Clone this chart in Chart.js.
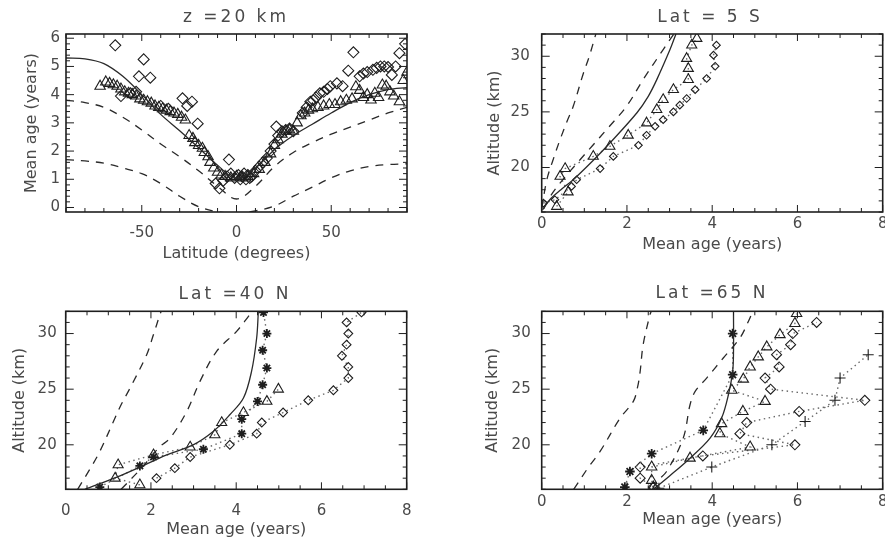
<!DOCTYPE html>
<html>
<head>
<meta charset="utf-8">
<script src="https://cdn.jsdelivr.net/npm/chart.js@4.4.1/dist/chart.umd.min.js"></script>
<style>
html, body { margin: 0; padding: 0; background: #fff; overflow: hidden; }
#wrap { position: relative; width: 885px; height: 544px; overflow: hidden; }
canvas { position: absolute; }
</style>
</head>
<body>
<div id="wrap">
  <canvas id="p1" width="442" height="272" style="left:0;top:0"></canvas>
  <canvas id="p2" width="451" height="272" style="left:442px;top:0"></canvas>
  <canvas id="p3" width="442" height="272" style="left:0;top:272px"></canvas>
  <canvas id="p4" width="451" height="272" style="left:442px;top:272px"></canvas>
</div>
<script>
// ---- z = 20 km (latitude cross section) ----
const latGrid20 = [-90, -80, -70, -60, -50, -40, -30, -20, -10, 0, 10, 20, 30, 40, 50, 60, 70, 80, 90];
const solid20 = [5.3, 5.27, 5.1, 4.65, 4.0, 3.3, 2.72, 2.12, 1.5, 1.02, 1.4, 2.05, 2.55, 2.95, 3.35, 3.72, 4.0, 4.18, 4.25];
const dashUp20 = [3.8, 3.72, 3.55, 3.2, 2.75, 2.25, 1.8, 1.3, 0.75, 0.3, 0.75, 1.45, 1.95, 2.3, 2.6, 2.85, 3.1, 3.35, 3.55];
const dashLo20 = [1.7, 1.65, 1.57, 1.4, 1.2, 0.85, 0.4, 0.03, -0.15, -0.2, -0.12, 0.05, 0.4, 0.72, 1.05, 1.3, 1.45, 1.52, 1.55];

const latDia20 = [-64, -49, -51.5, -45.5, -61, -56, -53, -40, -36, -28.5, -23.5, -26, -20.5, -4, -9, -11, -7, -5, -3, -1, 1, 2, 3, 4, 5, 6, 7, 8,
  10, 12, 14, 16, 18, 20, 21, 22, 24, 26, 28, 30, 35, 37, 39, 40.5, 42, 44, 46, 48, 49.5, 53, 56, 59, 61.7, 65, 67, 69, 72, 74, 76, 78, 80, 82, 84, 86, 89];
const ageDia20 = [5.75, 5.25, 4.65, 4.6, 3.95, 4.05, 4.1, 3.6, 3.5, 3.87, 3.75, 3.6, 2.97, 1.7, 0.68, 0.85, 0.95, 1.1, 1.2, 1.05, 1.15, 1.0, 1.1, 1.2, 1.0, 1.15, 1.05, 1.1,
  1.3, 1.45, 1.6, 1.75, 2.0, 2.25, 2.87, 2.55, 2.7, 2.75, 2.8, 2.7, 3.35, 3.55, 3.75, 3.8, 3.9, 4.05, 4.1, 4.2, 4.3, 4.4, 4.3, 4.85, 5.5, 4.65, 4.75, 4.8, 4.88, 4.95, 5.0, 5.0, 4.98, 4.7, 5.0, 5.47, 5.8];

const latTri20 = [-72, -69, -67, -65, -63, -61, -59, -57, -55, -53, -51, -49, -47, -45, -43, -41, -39, -37, -35, -33, -31, -29, -27, -25, -23, -22, -20, -18, -17, -15, -14, -12, -10, -8, -6, -3, 0, 3, 6, 9,
  12, 15, 18, 20, 22, 24, 26, 28, 30, 32, 34, 36, 38, 40, 43, 46, 49, 52, 55, 58, 61, 63, 65, 67, 69, 71, 73, 75, 77, 79, 81, 83, 86, 88, 90];
const ageTri20 = [4.3, 4.45, 4.4, 4.35, 4.3, 4.2, 4.1, 4.05, 4.0, 3.95, 3.85, 3.8, 3.75, 3.7, 3.6, 3.55, 3.5, 3.45, 3.4, 3.35, 3.3, 3.2, 3.1, 2.55, 2.45, 2.3, 2.2, 2.1, 1.95, 1.8, 1.6, 1.4, 1.25, 1.15, 1.1, 1.05, 1.1, 1.05, 1.1, 1.2,
  1.35, 1.6, 1.9, 2.2, 2.4, 2.6, 2.7, 2.75, 2.7, 3.0, 3.25, 3.35, 3.45, 3.5, 3.55, 3.6, 3.65, 3.65, 3.75, 3.8, 3.85, 4.28, 4.15, 3.9, 4.0, 3.81, 4.05, 3.9, 4.34, 4.3, 4.1, 3.95, 3.75, 4.5, 4.8];

// ---- Lat = 5 S (profiles) ----
const ageDashA5S = [0.0, 0.12, 0.25, 0.43, 0.6, 0.74, 0.98, 1.1, 1.21, 1.27];
const altDashA5S = [16.3, 18.9, 20.5, 22.5, 24.2, 25.5, 28.5, 29.8, 31.2, 32];
const ageDashB5S = [0.05, 0.15, 0.43, 0.9, 1.2, 1.52, 1.99, 2.38, 2.85, 3.1];
const altDashB5S = [16.3, 17.1, 18.6, 20.7, 22.0, 23.4, 25.5, 27.9, 30.6, 32];
const ageSolid5S = [0.02, 0.19, 0.45, 0.74, 1.2, 1.6, 2.23, 2.5, 2.7, 3.01, 3.15];
const altSolid5S = [16.2, 17.1, 18.0, 18.9, 20.6, 22.2, 24.9, 26.4, 27.9, 30.6, 32];
const ageTri5S = [0.35, 0.62, 0.43, 0.55, 1.21, 1.6, 2.03, 2.46, 2.7, 2.85, 3.09, 3.44, 3.44, 3.4, 3.52, 3.64];
const altTri5S = [16.5, 17.8, 19.2, 19.9, 21.0, 21.9, 22.9, 24.0, 25.2, 26.1, 27.0, 27.9, 28.9, 29.8, 31.0, 31.6];
const ageDia5S = [0.04, 0.31, 0.7, 0.82, 1.37, 1.68, 2.27, 2.46, 2.66, 2.85, 3.09, 3.24, 3.4, 3.6, 3.87, 4.07, 4.03, 4.1];
const altDia5S = [16.8, 17.1, 18.3, 18.9, 19.9, 21.0, 22.0, 22.9, 23.7, 24.3, 25.0, 25.6, 26.2, 27.0, 28.0, 29.1, 30.1, 31.0];

// ---- Lat = 40 N ----
const ageDashA40N = [0.28, 0.55, 0.8, 1.12, 1.3, 1.51, 1.9, 2.05, 2.21, 2.24];
const altDashA40N = [16, 17.7, 19.4, 22.1, 23.6, 25.1, 28.1, 29.8, 31.7, 32];
const ageDashB40N = [1.3, 1.8, 2.2, 2.45, 2.84, 3.15, 3.54, 4.01, 4.32, 4.38];
const altDashB40N = [16, 18, 19.8, 20.6, 23.0, 25.7, 28.4, 30.2, 31.7, 32];
const ageSolid40N = [0.45, 1.2, 1.74, 2.37, 2.99, 3.46, 3.85, 4.17, 4.36, 4.48, 4.52];
const altSolid40N = [16, 17.1, 18.0, 19.1, 20.0, 21.2, 22.7, 24.2, 26.6, 29.6, 32];
const ageAst40N = [0.8, 1.74, 2.06, 3.23, 4.13, 4.13, 4.5, 4.62, 4.72, 4.62, 4.72, 4.64];
const altAst40N = [16.2, 18.1, 18.9, 19.6, 21.0, 22.3, 23.9, 25.4, 26.9, 28.5, 30.0, 31.9];
const ageTri40N = [1.74, 1.16, 1.23, 2.06, 2.92, 3.5, 3.66, 4.17, 4.72, 4.99];
const altTri40N = [16.4, 17.0, 18.2, 19.1, 19.8, 20.9, 22.0, 22.9, 23.9, 25.0];
const ageDia40N = [2.13, 2.56, 2.92, 3.85, 4.48, 4.6, 5.1, 5.69, 6.28, 6.63, 6.63, 6.48, 6.59, 6.63, 6.59, 6.94];
const altDia40N = [17.0, 17.9, 18.9, 20.0, 21.0, 22.0, 22.9, 24.0, 24.9, 26.0, 27.0, 28.0, 29.0, 30.0, 31.0, 31.9];

// ---- Lat = 65 N ----
const ageDashA65N = [0.75, 1.1, 1.37, 1.84, 2.15, 2.25, 2.31, 2.38, 2.54, 2.57];
const altDashA65N = [16, 18, 19.4, 22.4, 23.9, 25.2, 26.6, 29.0, 31.7, 32];
const ageDashB65N = [2.6, 2.7, 2.93, 3.32, 3.48, 3.6, 3.87, 4.26, 4.65, 4.85, 4.95];
const altDashB65N = [16, 16.7, 17.6, 20.6, 23.6, 24.8, 26.0, 27.8, 29.6, 31.1, 32];
const ageSolid65N = [2.62, 3.0, 3.48, 3.95, 4.22, 4.38, 4.48, 4.5, 4.5];
const altSolid65N = [16, 17.2, 18.8, 20.6, 22.4, 24.5, 26.6, 28.5, 32];
const ageAst65N = [1.95, 2.07, 2.58, 3.79, 4.48, 4.48];
const altAst65N = [16.2, 17.6, 19.2, 21.3, 26.3, 30.0];
const agePlus65N = [2.75, 3.99, 5.4, 6.18, 6.88, 7.0, 7.66];
const altPlus65N = [16.1, 18.0, 20.0, 22.1, 24.0, 26.0, 28.1];
const ageTri65N = [2.62, 2.58, 2.58, 3.48, 4.89, 4.18, 4.22, 4.72, 5.24, 4.46, 4.73, 4.89, 5.08, 5.28, 5.59, 5.94, 5.98];
const altTri65N = [16.2, 16.8, 18.0, 18.8, 19.8, 21.0, 21.9, 23.0, 23.9, 24.9, 25.9, 27.0, 27.9, 28.8, 29.9, 30.9, 31.8];
const ageDia65N = [2.62, 2.31, 2.31, 3.78, 5.94, 4.65, 4.81, 6.04, 7.58, 5.37, 5.24, 5.57, 5.51, 5.84, 5.89, 6.45];
const altDia65N = [16.2, 17.0, 18.0, 19.0, 20.0, 21.0, 22.0, 23.0, 24.0, 25.0, 26.0, 27.0, 28.1, 29.0, 30.0, 31.0];

const FONT = 'DejaVu Sans';
const TEXT = '#4a4a4a';
const INK = '#1e1e1e';

function pts(xs, ys) {
    return xs.map((x, i) => ({ x: x, y: ys[i] }));
}

function curve(xs, ys, dash) {
    return {
        data: pts(xs, ys),
        showLine: true,
        pointRadius: 0,
        borderColor: '#2a2a2a',
        borderWidth: 1.3,
        borderDash: dash || [],
        tension: 0.35,
        fill: false
    };
}

function marks(xs, ys, style, r, joined) {
    return {
        data: pts(xs, ys),
        showLine: !!joined,
        pointStyle: style,
        pointRadius: r,
        pointBorderColor: INK,
        pointBackgroundColor: 'rgba(0,0,0,0)',
        pointBorderWidth: style === 'star' ? 1.8 : 1.1,
        borderColor: '#6a6a6a',
        borderWidth: 1.4,
        borderDash: [1.5, 3.5],
        tension: 0,
        fill: false
    };
}

// frame, inward IDL-style ticks and the panel title
const framePlugin = {
    id: 'frame',
    afterDraw(chart, args, o) {
        const { ctx, chartArea: a, scales: { x, y } } = chart;
        ctx.save();
        ctx.strokeStyle = INK;
        ctx.lineWidth = 1;
        const k = (s, step) => [Math.ceil(s.min / step - 1e-9), Math.floor(s.max / step + 1e-9)];
        const isMajor = (v, m) => Math.abs(v / m - Math.round(v / m)) < 1e-6;
        ctx.beginPath();
        let [k0, k1] = k(x, o.xMinor);
        for (let i = k0; i <= k1; i++) {
            const v = i * o.xMinor, px = x.getPixelForValue(v);
            const len = isMajor(v, o.xMajor) ? 7 : 4;
            ctx.moveTo(px, a.bottom); ctx.lineTo(px, a.bottom - len);
            ctx.moveTo(px, a.top); ctx.lineTo(px, a.top + len);
        }
        [k0, k1] = k(y, o.yMinor);
        for (let i = k0; i <= k1; i++) {
            const v = i * o.yMinor, py = y.getPixelForValue(v);
            const len = isMajor(v, o.yMajor) ? 8 : 4;
            ctx.moveTo(a.left, py); ctx.lineTo(a.left + len, py);
            ctx.moveTo(a.right, py); ctx.lineTo(a.right - len, py);
        }
        ctx.stroke();
        ctx.lineWidth = 1.6;
        ctx.strokeRect(a.left, a.top, a.right - a.left, a.bottom - a.top);

        ctx.fillStyle = TEXT;
        ctx.font = '17px ' + FONT;
        ctx.letterSpacing = '3px';
        ctx.textAlign = 'center';
        ctx.textBaseline = 'middle';
        ctx.fillText(o.title, o.tx, o.ty);
        ctx.restore();
    }
};

function axis(a, dir) {
    return {
        type: 'linear',
        min: a.min,
        max: a.max,
        afterBuildTicks: s => { s.ticks = a.ticks.map(v => ({ value: v })); },
        afterFit: s => { if (dir === 'x') s.height = a.size; else s.width = a.size; },
        grid: { display: false, drawTicks: false },
        border: { display: false },
        ticks: {
            autoSkip: false, maxRotation: 0, padding: a.pad, color: TEXT,
            font: { family: FONT, size: 15 },
            callback: v => String(v)
        },
        title: { display: true, text: a.title, color: TEXT, font: { family: FONT, size: 16 }, padding: 0 }
    };
}

function makePanel(id, p) {
    return new Chart(document.getElementById(id), {
        type: 'scatter',
        data: { datasets: p.datasets },
        options: {
            responsive: false,
            animation: false,
            devicePixelRatio: 1,
            layout: { padding: p.pad },
            plugins: { legend: { display: false }, tooltip: { enabled: false }, frame: p.frame },
            scales: { x: axis(p.x, 'x'), y: axis(p.y, 'y') }
        },
        plugins: [framePlugin]
    });
}

const ageAxis = (size, pad) => ({ min: 0, max: 8, ticks: [0, 2, 4, 6, 8], title: 'Mean age (years)', size: size, pad: pad });
const altAxis = (size, pad) => ({ min: 16, max: 32, ticks: [20, 25, 30], title: 'Altitude (km)', size: size, pad: pad });
const profTicks = { xMinor: 0.5, xMajor: 2, yMinor: 1, yMajor: 5 };
const DASH = [8, 7];

makePanel('p1', {
    pad: { left: 22.4, right: 35, top: 34, bottom: 8.4 },
    x: { min: -90, max: 90, ticks: [-50, 0, 50], title: 'Latitude (degrees)', size: 51.6, pad: 12 },
    y: { min: -0.16, max: 6.15, ticks: [0, 1, 2, 3, 4, 5, 6], title: 'Mean age (years)', size: 43.6, pad: 6 },
    frame: { title: 'z =20 km', tx: 236, ty: 18, xMinor: 10, xMajor: 50, yMinor: 0.2, yMajor: 1 },
    datasets: [
        curve(latGrid20, solid20),
        curve(latGrid20, dashUp20, DASH),
        curve(latGrid20, dashLo20, DASH),
        marks(latTri20, ageTri20, 'triangle', 6),
        marks(latDia20, ageDia20, 'rectRot', 5.5)
    ]
});

makePanel('p2', {
    pad: { left: 43.4, right: 10.3, top: 34, bottom: 17.4 },
    x: ageAxis(42.6, 3),
    y: altAxis(56.3, 12),
    frame: Object.assign({ title: 'Lat = 5 S', tx: 268, ty: 18 }, profTicks),
    datasets: [
        curve(ageDashA5S, altDashA5S, DASH),
        curve(ageDashB5S, altDashB5S, DASH),
        curve(ageSolid5S, altSolid5S),
        marks(ageTri5S, altTri5S, 'triangle', 5.8, true),
        marks(ageDia5S, altDia5S, 'rectRot', 3.8, true)
    ]
});

makePanel('p3', {
    pad: { left: 10.4, right: 35.3, top: 39.3, bottom: 4.4 },
    x: ageAxis(50.3, 13),
    y: altAxis(55.3, 9),
    frame: Object.assign({ title: 'Lat =40 N', tx: 235, ty: 23 }, profTicks),
    datasets: [
        curve(ageDashA40N, altDashA40N, DASH),
        curve(ageDashB40N, altDashB40N, DASH),
        curve(ageSolid40N, altSolid40N),
        marks(ageAst40N, altAst40N, 'star', 4.5, true),
        marks(ageTri40N, altTri40N, 'triangle', 5.8, true),
        marks(ageDia40N, altDia40N, 'rectRot', 4.4, true)
    ]
});

makePanel('p4', {
    pad: { left: 41.7, right: 10.3, top: 39.3, bottom: 14.1 },
    x: ageAxis(40.6, 3.8),
    y: altAxis(58, 11),
    frame: Object.assign({ title: 'Lat =65 N', tx: 270, ty: 22 }, profTicks),
    datasets: [
        curve(ageDashA65N, altDashA65N, DASH),
        curve(ageDashB65N, altDashB65N, DASH),
        curve(ageSolid65N, altSolid65N),
        marks(ageAst65N, altAst65N, 'star', 4.8, true),
        marks(agePlus65N, altPlus65N, 'cross', 5.5, true),
        marks(ageTri65N, altTri65N, 'triangle', 6, true),
        marks(ageDia65N, altDia65N, 'rectRot', 5, true)
    ]
});
</script>
</body>
</html>
